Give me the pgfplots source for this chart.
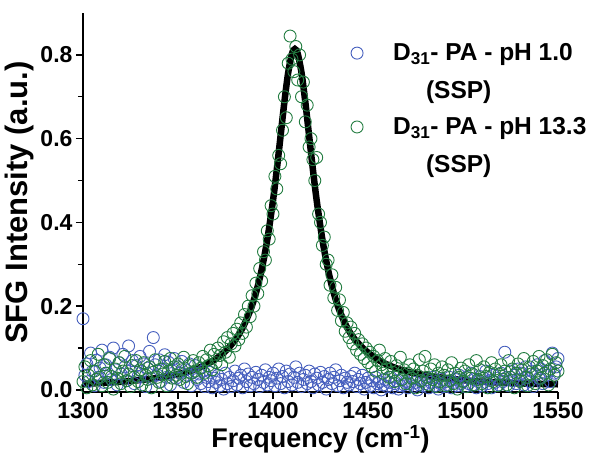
\documentclass[border=0pt]{standalone}
\usepackage{fontspec}
\setmainfont{Liberation Sans}
\usepackage{pgfplots}
\usepackage{pgfplotstable}
\pgfplotsset{compat=1.18}

\definecolor{phblue}{RGB}{70,95,190}
\definecolor{phgreen}{RGB}{35,125,65}

% pH 1.0 (SSP)
\pgfplotstableread[row sep=\\]{
x y\\
1300 0.170\\ 1301 0.035\\ 1302 0.062\\ 1303 0.020\\ 1304 0.088\\ 1305 0.045\\ 1306 0.010\\ 1307 0.071\\ 1308 0.030\\ 1309 0.052\\
1310 0.095\\ 1311 0.018\\ 1312 0.060\\ 1313 0.040\\ 1314 0.078\\ 1315 0.025\\ 1316 0.100\\ 1317 0.048\\ 1318 0.012\\ 1319 0.065\\
1320 0.038\\ 1321 0.085\\ 1322 0.055\\ 1323 0.022\\ 1324 0.105\\ 1325 0.046\\ 1326 0.070\\ 1327 0.015\\ 1328 0.058\\ 1329 0.032\\
1330 0.080\\ 1331 0.044\\ 1332 0.062\\ 1333 0.008\\ 1334 0.052\\ 1335 0.092\\ 1336 0.027\\ 1337 0.125\\ 1338 0.060\\ 1339 0.036\\
1340 0.072\\ 1341 0.020\\ 1342 0.050\\ 1343 0.084\\ 1344 0.030\\ 1345 0.066\\ 1346 0.012\\ 1347 0.045\\ 1348 0.075\\ 1349 0.028\\
1350 0.055\\ 1351 0.040\\ 1352 0.068\\ 1353 0.018\\ 1354 0.048\\ 1355 0.035\\ 1356 0.062\\ 1357 0.010\\ 1358 0.042\\ 1359 0.058\\
1360 0.025\\ 1361 0.038\\ 1362 0.015\\ 1363 0.045\\ 1364 0.008\\ 1365 0.030\\ 1366 0.020\\ 1367 0.042\\ 1368 0.005\\ 1369 0.028\\
1370 0.018\\ 1371 0.035\\ 1372 0.010\\ 1373 0.025\\ 1374 0.002\\ 1375 0.040\\ 1376 0.015\\ 1377 0.030\\ 1378 0.008\\ 1379 0.022\\
1380 0.045\\ 1381 0.012\\ 1382 0.028\\ 1383 0.035\\ 1384 0.005\\ 1385 0.050\\ 1386 0.020\\ 1387 0.038\\ 1388 0.010\\ 1389 0.030\\
1390 0.015\\ 1391 0.042\\ 1392 0.025\\ 1393 0.008\\ 1394 0.035\\ 1395 0.018\\ 1396 0.048\\ 1397 0.012\\ 1398 0.030\\ 1399 0.022\\
1400 0.040\\ 1401 0.010\\ 1402 0.028\\ 1403 0.050\\ 1404 0.015\\ 1405 0.032\\ 1406 0.005\\ 1407 0.045\\ 1408 0.020\\ 1409 0.038\\
1410 0.012\\ 1411 0.030\\ 1412 0.055\\ 1413 0.018\\ 1414 0.040\\ 1415 0.008\\ 1416 0.025\\ 1417 0.035\\ 1418 0.015\\ 1419 0.045\\
1420 0.020\\ 1421 0.005\\ 1422 0.038\\ 1423 0.028\\ 1424 0.012\\ 1425 0.042\\ 1426 0.018\\ 1427 0.032\\ 1428 0.002\\ 1429 0.025\\
1430 0.040\\ 1431 0.015\\ 1432 0.030\\ 1433 0.048\\ 1434 0.010\\ 1435 0.022\\ 1436 0.035\\ 1437 0.005\\ 1438 0.028\\ 1439 0.018\\
1440 0.012\\ 1441 0.032\\ 1442 0.020\\ 1443 0.040\\ 1444 0.008\\ 1445 0.025\\ 1446 0.015\\ 1447 0.035\\ 1448 0.002\\ 1449 0.018\\
1450 0.028\\ 1451 0.010\\ 1452 0.022\\ 1453 0.005\\ 1454 0.030\\ 1455 0.015\\ 1456 0.020\\ 1457 0.000\\ 1458 0.012\\ 1459 0.025\\
1460 0.008\\ 1461 0.018\\ 1462 0.030\\ 1463 0.005\\ 1464 0.015\\ 1465 0.022\\ 1466 0.002\\ 1467 0.010\\ 1468 0.025\\ 1469 0.012\\
1470 0.020\\ 1471 0.005\\ 1472 0.015\\ 1473 0.028\\ 1474 0.008\\ 1475 0.018\\ 1476 0.000\\ 1477 0.012\\ 1478 0.022\\ 1479 0.010\\
1480 0.015\\ 1481 0.025\\ 1482 0.005\\ 1483 0.018\\ 1484 0.030\\ 1485 0.010\\ 1486 0.020\\ 1487 0.002\\ 1488 0.015\\ 1489 0.025\\
1490 0.008\\ 1491 0.020\\ 1492 0.012\\ 1493 0.030\\ 1494 0.005\\ 1495 0.018\\ 1496 0.025\\ 1497 0.010\\ 1498 0.035\\ 1499 0.015\\
1500 0.022\\ 1501 0.008\\ 1502 0.030\\ 1503 0.015\\ 1504 0.040\\ 1505 0.012\\ 1506 0.025\\ 1507 0.005\\ 1508 0.020\\ 1509 0.032\\
1510 0.010\\ 1511 0.028\\ 1512 0.045\\ 1513 0.015\\ 1514 0.022\\ 1515 0.005\\ 1516 0.035\\ 1517 0.018\\ 1518 0.028\\ 1519 0.012\\
1520 0.040\\ 1521 0.020\\ 1522 0.090\\ 1523 0.030\\ 1524 0.010\\ 1525 0.045\\ 1526 0.022\\ 1527 0.035\\ 1528 0.015\\ 1529 0.050\\
1530 0.025\\ 1531 0.040\\ 1532 0.012\\ 1533 0.055\\ 1534 0.030\\ 1535 0.020\\ 1536 0.045\\ 1537 0.008\\ 1538 0.038\\ 1539 0.060\\
1540 0.028\\ 1541 0.050\\ 1542 0.015\\ 1543 0.070\\ 1544 0.035\\ 1545 0.045\\ 1546 0.020\\ 1547 0.088\\ 1548 0.040\\ 1549 0.055\\
1550 0.075\\
}\lowph

% pH 13.3 (SSP)
\pgfplotstableread[row sep=\\]{
x y\\
1300 0.020\\ 1301 0.055\\ 1302 0.005\\ 1303 0.035\\ 1304 0.070\\ 1305 0.012\\ 1306 0.045\\ 1307 0.025\\ 1308 0.085\\ 1309 0.030\\
1310 0.010\\ 1311 0.060\\ 1312 0.040\\ 1313 0.018\\ 1314 0.075\\ 1315 0.032\\ 1316 0.002\\ 1317 0.050\\ 1318 0.028\\ 1319 0.065\\
1320 0.015\\ 1321 0.045\\ 1322 0.080\\ 1323 0.022\\ 1324 0.038\\ 1325 0.008\\ 1326 0.058\\ 1327 0.030\\ 1328 0.070\\ 1329 0.020\\
1330 0.048\\ 1331 0.012\\ 1332 0.065\\ 1333 0.035\\ 1334 0.025\\ 1335 0.055\\ 1336 0.005\\ 1337 0.042\\ 1338 0.072\\ 1339 0.030\\
1340 0.018\\ 1341 0.050\\ 1342 0.038\\ 1343 0.068\\ 1344 0.010\\ 1345 0.045\\ 1346 0.075\\ 1347 0.028\\ 1348 0.055\\ 1349 0.035\\
1350 0.062\\ 1351 0.025\\ 1352 0.048\\ 1353 0.078\\ 1354 0.032\\ 1355 0.015\\ 1356 0.058\\ 1357 0.040\\ 1358 0.070\\ 1359 0.045\\
1360 0.030\\ 1361 0.065\\ 1362 0.052\\ 1363 0.080\\ 1364 0.040\\ 1365 0.072\\ 1366 0.058\\ 1367 0.095\\ 1368 0.048\\ 1369 0.085\\
1370 0.065\\ 1371 0.100\\ 1372 0.082\\ 1373 0.060\\ 1374 0.115\\ 1375 0.090\\ 1376 0.125\\ 1377 0.078\\ 1378 0.110\\ 1379 0.135\\
1380 0.105\\ 1381 0.145\\ 1382 0.120\\ 1383 0.160\\ 1384 0.135\\ 1385 0.180\\ 1386 0.150\\ 1387 0.200\\ 1388 0.175\\ 1389 0.225\\
1390 0.200\\ 1391 0.255\\ 1392 0.230\\ 1393 0.290\\ 1394 0.260\\ 1395 0.330\\ 1396 0.310\\ 1397 0.380\\ 1398 0.360\\ 1399 0.440\\
1400 0.420\\ 1401 0.510\\ 1402 0.480\\ 1403 0.560\\ 1404 0.540\\ 1405 0.620\\ 1406 0.700\\ 1407 0.650\\ 1408 0.780\\ 1409 0.845\\
1410 0.790\\ 1411 0.760\\ 1412 0.820\\ 1413 0.740\\ 1414 0.800\\ 1415 0.700\\ 1416 0.735\\ 1417 0.640\\ 1418 0.680\\ 1419 0.580\\
1420 0.600\\ 1421 0.550\\ 1422 0.500\\ 1423 0.555\\ 1424 0.420\\ 1425 0.400\\ 1426 0.345\\ 1427 0.365\\ 1428 0.300\\ 1429 0.310\\
1430 0.250\\ 1431 0.275\\ 1432 0.220\\ 1433 0.245\\ 1434 0.190\\ 1435 0.215\\ 1436 0.165\\ 1437 0.185\\ 1438 0.140\\ 1439 0.160\\
1440 0.125\\ 1441 0.150\\ 1442 0.110\\ 1443 0.135\\ 1444 0.095\\ 1445 0.120\\ 1446 0.085\\ 1447 0.110\\ 1448 0.075\\ 1449 0.100\\
1450 0.065\\ 1451 0.090\\ 1452 0.055\\ 1453 0.080\\ 1454 0.045\\ 1455 0.070\\ 1456 0.095\\ 1457 0.060\\ 1458 0.040\\ 1459 0.075\\
1460 0.050\\ 1461 0.030\\ 1462 0.068\\ 1463 0.042\\ 1464 0.020\\ 1465 0.058\\ 1466 0.035\\ 1467 0.078\\ 1468 0.025\\ 1469 0.048\\
1470 0.015\\ 1471 0.040\\ 1472 0.060\\ 1473 0.028\\ 1474 0.050\\ 1475 0.005\\ 1476 0.035\\ 1477 0.072\\ 1478 0.022\\ 1479 0.045\\
1480 0.080\\ 1481 0.030\\ 1482 0.012\\ 1483 0.050\\ 1484 0.025\\ 1485 0.060\\ 1486 0.008\\ 1487 0.040\\ 1488 0.020\\ 1489 0.055\\
1490 0.035\\ 1491 0.010\\ 1492 0.048\\ 1493 0.022\\ 1494 0.065\\ 1495 0.015\\ 1496 0.040\\ 1497 0.002\\ 1498 0.030\\ 1499 0.052\\
1500 0.020\\ 1501 0.045\\ 1502 0.008\\ 1503 0.060\\ 1504 0.028\\ 1505 0.038\\ 1506 0.012\\ 1507 0.070\\ 1508 0.025\\ 1509 0.048\\
1510 0.015\\ 1511 0.055\\ 1512 0.032\\ 1513 0.005\\ 1514 0.042\\ 1515 0.065\\ 1516 0.020\\ 1517 0.050\\ 1518 0.010\\ 1519 0.038\\
1520 0.060\\ 1521 0.025\\ 1522 0.045\\ 1523 0.012\\ 1524 0.070\\ 1525 0.030\\ 1526 0.050\\ 1527 0.005\\ 1528 0.040\\ 1529 0.062\\
1530 0.020\\ 1531 0.048\\ 1532 0.075\\ 1533 0.030\\ 1534 0.010\\ 1535 0.055\\ 1536 0.038\\ 1537 0.068\\ 1538 0.015\\ 1539 0.045\\
1540 0.080\\ 1541 0.028\\ 1542 0.058\\ 1543 0.040\\ 1544 0.072\\ 1545 0.012\\ 1546 0.050\\ 1547 0.085\\ 1548 0.035\\ 1549 0.065\\
1550 0.045\\
}\highph

% Lorentzian fit to pH 13.3
\pgfplotstableread[row sep=\\]{
x y\\
1300 0.0145\\ 1310 0.0167\\ 1320 0.0195\\ 1330 0.0235\\ 1340 0.0292\\ 1350 0.0376\\ 1355 0.0436\\ 1360 0.0511\\
1365 0.0610\\ 1370 0.0744\\ 1375 0.0927\\ 1380 0.1188\\ 1384 0.1482\\ 1388 0.1893\\ 1391 0.2312\\ 1394 0.2863\\
1397 0.3588\\ 1400 0.4522\\ 1402 0.5263\\ 1404 0.6070\\ 1406 0.6878\\ 1408 0.7576\\ 1410 0.8030\\ 1411.5 0.8140\\
1413 0.8030\\ 1415 0.7576\\ 1417 0.6878\\ 1419 0.6070\\ 1421 0.5263\\ 1423 0.4522\\ 1426 0.3588\\ 1429 0.2863\\
1432 0.2312\\ 1435 0.1893\\ 1439 0.1490\\ 1443 0.1210\\ 1448 0.0970\\ 1453 0.0790\\ 1458 0.0650\\ 1463 0.0550\\
1468 0.0470\\ 1473 0.0410\\ 1483 0.0330\\ 1493 0.0270\\ 1503 0.0220\\ 1513 0.0190\\ 1523 0.0170\\ 1533 0.0150\\
1543 0.0140\\ 1550 0.0135\\
}\fitdata

\begin{document}
\begin{tikzpicture}
\begin{axis}[
  scale only axis, width=475pt, height=379pt,
  xmin=1300, xmax=1550, ymin=-0.005, ymax=0.9,
  axis lines=left, axis line style={-, line width=1.6pt},
  xtick={1300,1350,1400,1450,1500,1550},
  ytick={0,0.2,0.4,0.6,0.8},
  minor x tick num=4, minor y tick num=1,
  tick align=outside, major tick length=7pt, minor tick length=5pt,
  tick style={line width=1.4pt, black},
  /pgf/number format/assume math mode=true,
  xticklabel style={/pgf/number format/1000 sep={}},
  yticklabel style={/pgf/number format/.cd, fixed, fixed zerofill, precision=1},
  ticklabel style={font=\fontsize{23}{27}\selectfont\bfseries},
  xlabel={Frequency (cm\textsuperscript{-1})},
  ylabel={SFG Intensity (a.u.)},
  xlabel style={font=\fontsize{27}{32}\selectfont\bfseries},
  ylabel style={font=\fontsize{31}{36}\selectfont\bfseries},
  legend style={at={(0.559,0.924)}, anchor=north west, draw=none, fill=none,
    inner sep=0pt, outer sep=0pt,
    font=\fontsize{24.5}{30}\selectfont\bfseries, row sep=14pt,
    /tikz/every odd column/.append style={column sep=28pt}},
  legend cell align=left,
]
\addplot[only marks, mark=o, mark size=6pt, phblue, mark options={line width=0.9pt}]
  table[x=x, y=y] {\lowph};
\addlegendentry{D\textsubscript{31}- PA - pH 1.0}
\addlegendimage{empty legend}
\addlegendentry{\hspace*{33pt}(SSP)}
\addplot[only marks, mark=o, mark size=6pt, phgreen, mark options={line width=0.9pt}]
  table[x=x, y=y] {\highph};
\addlegendentry{D\textsubscript{31}- PA - pH 13.3}
\addlegendimage{empty legend}
\addlegendentry{\hspace*{33pt}(SSP)}
\addplot[black, line width=6.5pt, smooth, forget plot] table[x=x, y=y] {\fitdata};
\end{axis}
\path ([shift={(-83pt,-72pt)}]current axis.south west) rectangle ++(594pt,464pt);
\end{tikzpicture}
\end{document}
